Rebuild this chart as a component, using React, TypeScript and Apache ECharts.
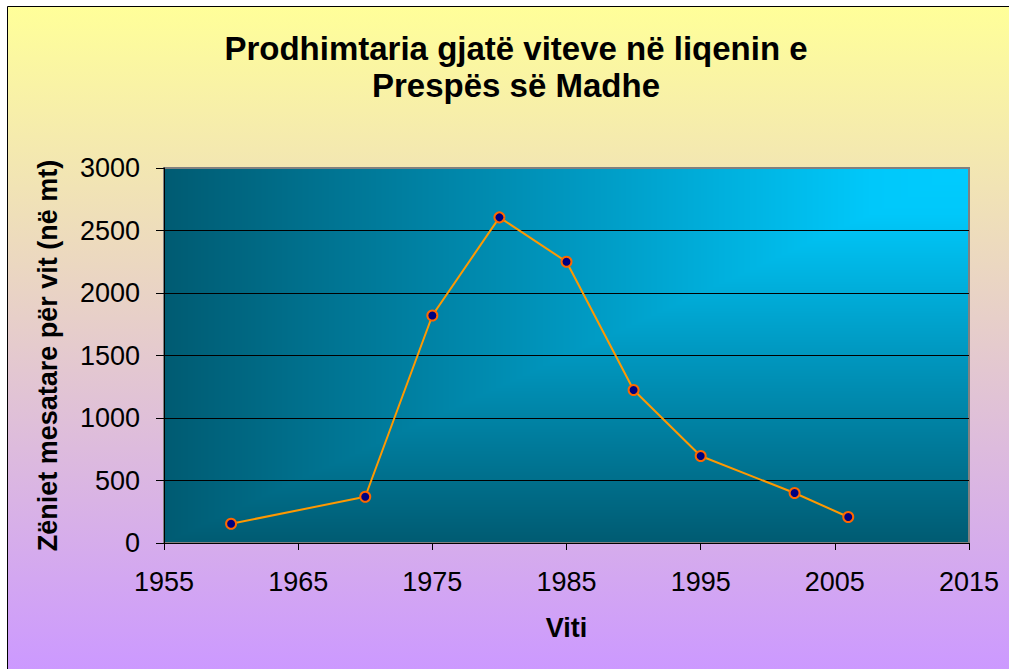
import React, { useEffect, useRef } from 'react';
import * as echarts from 'echarts';

const titleLines = ['Prodhimtaria gjatë viteve në liqenin e', 'Prespës së Madhe'];
const xAxisTitle = 'Viti';
const yAxisTitle = 'Zëniet mesatare për vit (në mt)';

const years = [1960, 1970, 1975, 1980, 1985, 1990, 1995, 2002, 2006];
const production = [154, 370, 1820, 2605, 2250, 1224, 696, 400, 208];

const xTicks = [1955, 1965, 1975, 1985, 1995, 2005, 2015];
const yTicks = [0, 500, 1000, 1500, 2000, 2500, 3000];

const FONT = '"Liberation Sans", Arial, Helvetica, sans-serif';

const GRID = { left: 164, top: 168, width: 805, height: 375 };

function makePlotGradient(w: number, h: number): string {
  const c = document.createElement('canvas');
  c.width = w;
  c.height = h;
  const ctx = c.getContext('2d');
  if (!ctx) return '';
  const img = ctx.createImageData(w, h);
  const stops: [number, number[]][] = [
    [0, [0, 204, 255]],
    [0.12, [0, 200, 250]],
    [0.5, [0, 151, 191]],
    [1, [0, 91, 114]],
  ];
  const col = (t: number) => {
    for (let i = 0; i < stops.length - 1; i++) {
      const [t0, c0] = stops[i];
      const [t1, c1] = stops[i + 1];
      if (t <= t1) {
        const f = (t - t0) / (t1 - t0);
        return [0, 1, 2].map((k) => c0[k] + (c1[k] - c0[k]) * f);
      }
    }
    return stops[stops.length - 1][1];
  };
  for (let y = 0; y < h; y++) {
    for (let x = 0; x < w; x++) {
      const dx = (w - 1 - x) / (w - 1);
      const dy = y / (h - 1);
      const t = Math.max(dx, dy);
      const cc = col(t);
      const i = (y * w + x) * 4;
      img.data[i] = cc[0];
      img.data[i + 1] = cc[1];
      img.data[i + 2] = cc[2];
      img.data[i + 3] = 255;
    }
  }
  ctx.putImageData(img, 0, 0);
  return c.toDataURL();
}

export default function App() {
  const ref = useRef<HTMLDivElement>(null);

  useEffect(() => {
    if (!ref.current) return;
    const chart = echarts.init(ref.current, undefined, { renderer: 'svg' });
    const plotImg = makePlotGradient(GRID.width, GRID.height);

    const option: any = {
      animation: false,
      backgroundColor: '#ffffff',
      graphic: [
        {
          type: 'rect',
          z: -10,
          shape: { x: 7.5, y: 6.5, width: 1010, height: 663 },
          style: {
            fill: new echarts.graphic.LinearGradient(0, 0, 0, 1, [
              { offset: 0, color: '#FFFF99' },
              { offset: 1, color: '#CC99FF' },
            ]),
            stroke: '#000000',
            lineWidth: 1,
          },
        },
        {
          type: 'image',
          z: -5,
          x: GRID.left,
          y: GRID.top,
          style: { image: plotImg, width: GRID.width, height: GRID.height },
        },
        {
          type: 'text',
          x: 516,
          y: 48,
          style: {
            text: titleLines[0],
            fontFamily: FONT,
            fontSize: 33,
            fontWeight: 'bold',
            fill: '#000000',
            align: 'center',
            verticalAlign: 'middle',
          },
        },
        {
          type: 'text',
          x: 516,
          y: 85,
          style: {
            text: titleLines[1],
            fontFamily: FONT,
            fontSize: 33,
            fontWeight: 'bold',
            fill: '#000000',
            align: 'center',
            verticalAlign: 'middle',
          },
        },
      ],
      grid: {
        left: GRID.left,
        top: GRID.top,
        width: GRID.width,
        height: GRID.height,
        show: true,
        backgroundColor: 'transparent',
        borderColor: '#808080',
        borderWidth: 2,
      },
      xAxis: {
        type: 'value',
        min: xTicks[0],
        max: xTicks[xTicks.length - 1],
        interval: xTicks[1] - xTicks[0],
        name: xAxisTitle,
        nameLocation: 'middle',
        nameGap: 71,
        nameTextStyle: { fontFamily: FONT, fontSize: 27, fontWeight: 'bold', color: '#000' },
        axisLine: { show: true, onZero: false, lineStyle: { color: '#000', width: 1 } },
        axisTick: { show: true, inside: false, length: 7, lineStyle: { color: '#000' } },
        axisLabel: {
          margin: 25,
          fontFamily: FONT,
          fontSize: 27,
          color: '#000',
          formatter: (v: number) => String(v),
        },
        splitLine: { show: false },
      },
      yAxis: {
        type: 'value',
        min: yTicks[0],
        max: yTicks[yTicks.length - 1],
        interval: yTicks[1] - yTicks[0],
        name: yAxisTitle,
        nameLocation: 'middle',
        nameGap: 103,
        nameTextStyle: { fontFamily: FONT, fontSize: 27, fontWeight: 'bold', color: '#000' },
        axisLine: { show: true, lineStyle: { color: '#000', width: 1 } },
        axisTick: { show: true, inside: false, length: 8, lineStyle: { color: '#000' } },
        axisLabel: {
          margin: 24,
          fontFamily: FONT,
          fontSize: 27,
          color: '#000',
          formatter: (v: number) => String(v),
        },
        splitLine: {
          show: true,
          lineStyle: {
            color: ['#000', '#000', '#000', '#000', '#000', '#000', '#808080'],
            width: 1,
          },
        },
      },
      series: [
        {
          type: 'line',
          data: years.map((y, i) => [y, production[i]]),
          lineStyle: { color: '#FF9900', width: 2 },
          symbol: 'circle',
          symbolSize: 10,
          itemStyle: { color: '#000080', borderColor: '#FF6600', borderWidth: 2 },
          z: 3,
        },
      ],
    };
    chart.setOption(option);
    return () => chart.dispose();
  }, []);

  return (
    <div
      ref={ref}
      style={{ position: 'absolute', left: 0, top: 0, width: 1009, height: 669 }}
    />
  );
}
